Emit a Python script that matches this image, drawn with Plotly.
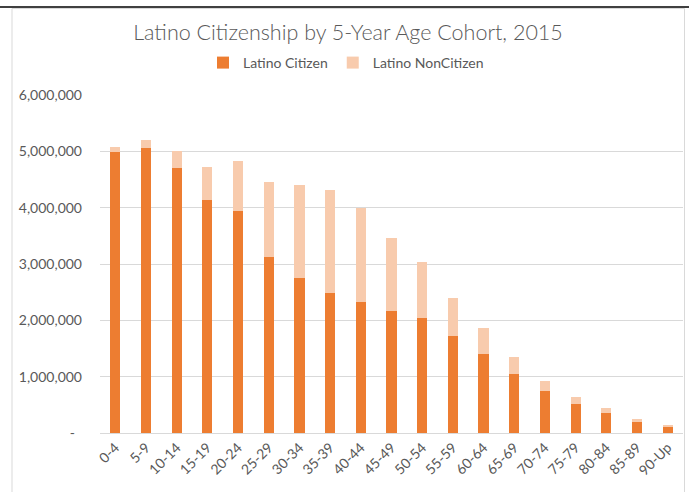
import plotly.graph_objects as go

# Age cohorts and population counts (persons)
cohorts = ["0-4", "5-9", "10-14", "15-19", "20-24", "25-29", "30-34", "35-39",
           "40-44", "45-49", "50-54", "55-59", "60-64", "65-69", "70-74",
           "75-79", "80-84", "85-89", "90-Up"]
citizen = [4990000, 5065000, 4710000, 4140000, 3940000, 3130000, 2750000, 2490000,
           2330000, 2170000, 2050000, 1720000, 1400000, 1050000, 740000,
           515000, 360000, 200000, 120000]
noncitizen = [80000, 135000, 290000, 590000, 890000, 1330000, 1650000, 1820000,
              1670000, 1300000, 980000, 670000, 470000, 305000, 190000,
              125000, 84000, 50000, 22000]

y_ticks = [0, 1000000, 2000000, 3000000, 4000000, 5000000, 6000000]
y_tick_text = ["-\u00a0\u00a0", "1,000,000", "2,000,000", "3,000,000",
               "4,000,000", "5,000,000", "6,000,000"]

TEXT = "#595959"
GRID = "#D9D9D9"
FONT = "Lato, 'Open Sans', sans-serif"

W, H = 689, 492
L, R, T, B = 100, 6, 95, 59
PW, PH = W - L - R, H - T - B


def px(x):
    return (x - L) / PW


def py(y):
    return (H - B - y) / PH


fig = go.Figure()
fig.add_trace(go.Bar(x=cohorts, y=citizen, name="Latino Citizen",
                     marker=dict(color="#ED7D31", line=dict(width=0))))
fig.add_trace(go.Bar(x=cohorts, y=noncitizen, name="Latino NonCitizen",
                     marker=dict(color="#F8CBAD", line=dict(width=0))))

fig.update_layout(
    width=W, height=H,
    margin=dict(l=L, r=R, t=T, b=B),
    barmode="stack", bargap=0.67,
    paper_bgcolor="white", plot_bgcolor="white",
    font=dict(family=FONT, color=TEXT, size=14),
    title=dict(text="Latino Citizenship by 5-Year Age Cohort, 2015",
               font=dict(family=FONT, size=21.5, color=TEXT, weight=300),
               xref="container", x=348 / W, xanchor="center",
               yref="container", y=1 - 32 / H, yanchor="middle"),
    legend=dict(orientation="h", xref="paper", x=px(346), xanchor="center",
                yref="paper", y=py(63), yanchor="middle",
                font=dict(family=FONT, size=14, color=TEXT),
                itemwidth=30, traceorder="normal"),
    xaxis=dict(tickangle=-45, showgrid=False, showline=True, linecolor=GRID,
               linewidth=1, ticks="", tickfont=dict(size=14, color=TEXT)),
    yaxis=dict(range=[0, 6000000], tickvals=y_ticks, ticktext=y_tick_text,
               showgrid=True, gridcolor=GRID, gridwidth=1, zeroline=False,
               ticks="", ticklabelstandoff=17,
               tickfont=dict(size=14, color=TEXT)),
    showlegend=True,
)

# Chart frame and top rule
fig.add_shape(type="rect", xref="paper", yref="paper",
              x0=px(12), x1=px(684.5), y0=py(520), y1=py(8.5),
              line=dict(color=GRID, width=1), layer="below")
fig.add_shape(type="line", xref="paper", yref="paper",
              x0=px(0), x1=px(689), y0=py(7), y1=py(7),
              line=dict(color="black", width=1.5))

fig.write_html("out.html")
